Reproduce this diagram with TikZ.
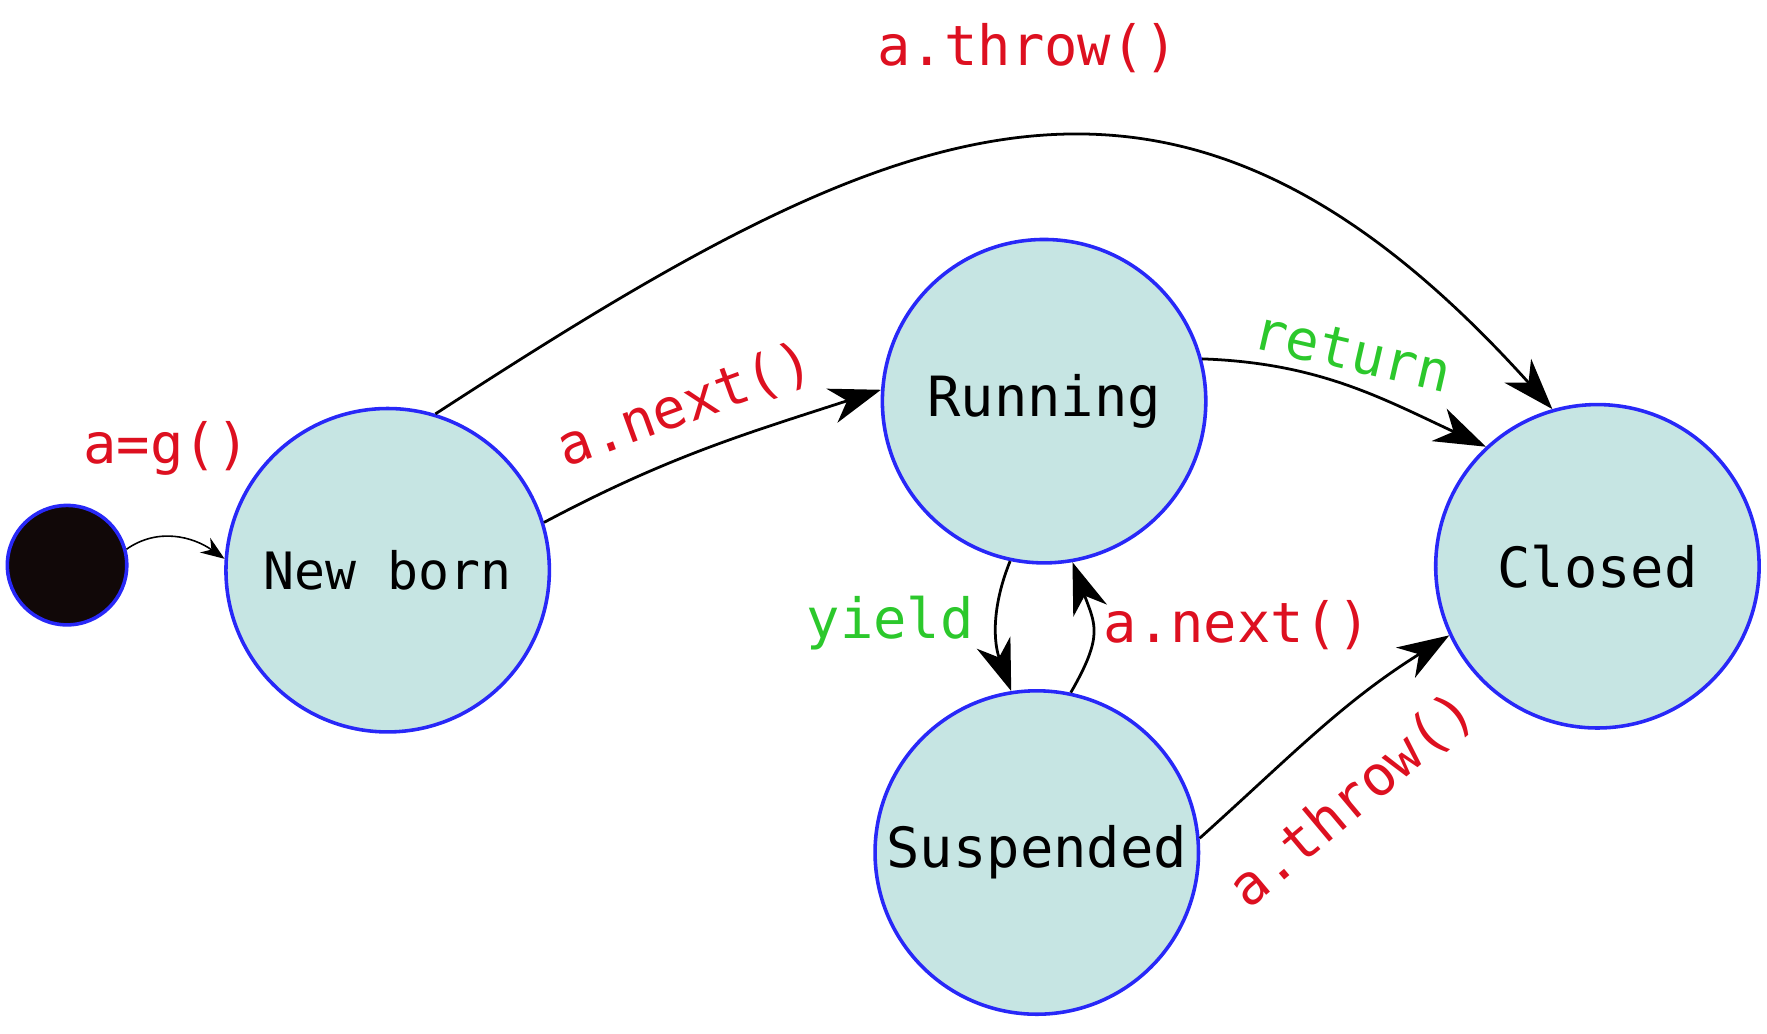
\documentclass[tikz,border=0pt]{standalone}
\usepackage{fontspec}
\setmonofont{DejaVu Sans Mono}
\usetikzlibrary{arrows.meta}
\definecolor{statefill}{HTML}{C6E5E3}
\definecolor{stateline}{HTML}{2828F8}
\definecolor{callred}{HTML}{DD1020}
\definecolor{okgreen}{HTML}{2CC82C}
\begin{document}
\begin{tikzpicture}[
	state/.style={circle, draw=stateline, line width=0.9pt, fill=statefill, minimum size=2.87cm, inner sep=0pt, font=\ttfamily\fontsize{14}{16}\selectfont},
	call/.style={text=callred, inner sep=1pt, font=\ttfamily\fontsize{14}{16}\selectfont},
	event/.style={call, text=okgreen},
	flow/.style={-{Stealth[length=13pt,width=9pt,inset=4pt]}, line width=0.7pt},
	]
			\useasboundingbox (0,0) rectangle (15.68,9.17);
			
			\node[circle, draw=stateline, line width=0.9pt, fill={rgb,255:red,17;green,8;blue,8}, minimum size=1.06cm, inner sep=0pt] (start) at (0.595,4.155) {};
			\node[state, font=\ttfamily\fontsize{13}{15}\selectfont] (newborn) at (3.44,4.11) {New born};
			\node[state] (running) at (9.265,5.61) {Running};
			\node[state] (suspended) at (9.20,1.605) {Suspended};
			\node[state] (closed) at (14.175,4.145) {Closed};
		
			\draw[-{Stealth[length=6pt,width=4.5pt]}, line width=0.4pt] (start.15) to[out=35, in=145] (newborn.176);
			\draw[flow] (newborn.17.6) to[out=28, in=198] (running.176.8);
			\draw[flow] (newborn.73) .. controls +(33:4.8) and +(132:5.1) .. (closed.106);
			\draw[flow] (running.15) to[out=-2, in=155] (closed.133);
			\draw[flow] (running.258) to[out=248, in=110] (suspended.99);
			\draw[flow] (suspended.78) to[out=60, in=-70, looseness=1.3] (running.280);
			\draw[flow] (suspended.5) to[out=42, in=212] (closed.205);
			
			\node[call] (lblnew) at (1.48,5.19) {a=g()};
			\node[call] (lblthrowtop) at (9.12,8.74) {a.throw()};
			\node[call, rotate=20] (lblnexttop) at (6.08,5.57) {a.next()};
			\node[event, rotate=-13] (lblreturn) at (12.00,6.05) {return};
			\node[event] (lblyield) at (7.90,3.64) {yield};
			\node[call] (lblnextlow) at (10.98,3.62) {a.next()};
			\node[call, rotate=40] (lblthrowlow) at (12.00,2.07) {a.throw()};
		\end{tikzpicture}
\end{document}
